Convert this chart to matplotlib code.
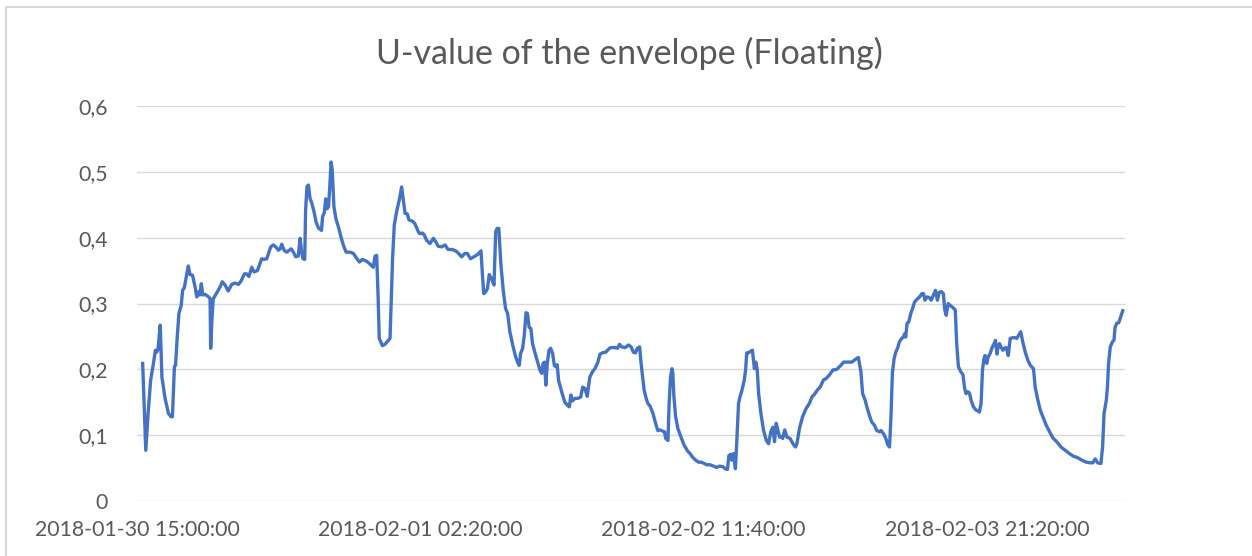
import matplotlib
matplotlib.use("Agg")

import matplotlib.pyplot as plt
from matplotlib.lines import Line2D
from matplotlib.ticker import FuncFormatter

# ================================
# DATA
# ================================
# x: sample position, one label every 100 units
idx = [
    2.0, 3.1, 4.0, 4.8, 5.8, 6.5, 6.9, 7.4, 8.2, 8.8, 9.9, 11.1, 12.0, 12.5, 13.2, 13.6,
    14.2, 14.8, 15.6, 16.1, 16.7, 17.3, 18.1, 18.7, 19.6, 20.5, 21.1, 21.8, 22.2, 22.7,
    23.2, 24.0, 25.3, 25.8, 26.0, 26.5, 26.9, 28.4, 29.3, 30.1, 31.1, 32.2, 33.4, 34.6,
    35.8, 36.7, 37.9, 38.7, 39.5, 40.5, 41.3, 42.5, 44.0, 44.8, 45.8, 46.4, 47.2, 48.1,
    49.0, 49.9, 50.5, 51.1, 51.9, 52.8, 53.8, 54.4, 55.2, 56.0, 56.9, 57.6, 58.1, 58.6,
    59.2, 59.5, 60.0, 60.5, 61.1, 61.6, 62.5, 63.2, 64.0, 65.1, 65.5, 66.1, 66.6, 67.1,
    67.6, 68.1, 68.5, 68.9, 69.5, 70.2, 71.1, 72.0, 72.8, 73.8, 75.2, 76.4, 77.3, 78.5,
    79.5, 81.1, 82.2, 83.4, 84.0, 84.6, 85.1, 85.5, 86.6, 87.5, 88.3, 89.3, 89.8, 90.2,
    90.8, 91.6, 92.6, 93.4, 94.0, 94.6, 95.4, 96.0, 97.3, 98.1, 99.3, 99.8, 100.8, 101.4,
    102.2, 103.4, 104.6, 105.4, 106.3, 107.5, 108.7, 109.8, 111.4, 112.8, 114.6, 115.7,
    116.6, 117.7, 119.3, 120.4, 121.4, 122.0, 122.4, 123.1, 123.7, 124.3, 125.1, 126.0,
    126.6, 127.1, 127.7, 128.4, 129.3, 130.1, 130.8, 131.6, 132.6, 133.5, 134.3, 134.9,
    135.4, 136.1, 136.7, 137.3, 137.8, 138.4, 139.0, 139.6, 140.4, 141.4, 142.2, 142.8,
    143.3, 143.8, 144.3, 144.8, 145.4, 146.0, 146.7, 147.3, 147.8, 148.3, 148.8, 149.5,
    150.2, 151.0, 152.0, 152.6, 153.1, 153.7, 154.6, 155.7, 156.6, 157.3, 158.1, 158.9,
    159.8, 160.7, 161.6, 162.6, 163.4, 164.2, 165.4, 166.3, 167.1, 168.8, 169.6, 170.3,
    171.1, 172.3, 173.5, 174.4, 175.2, 175.9, 176.6, 177.4, 177.8, 178.3, 179.0, 179.7,
    180.3, 181.1, 182.1, 182.9, 183.8, 184.6, 185.6, 186.2, 186.6, 187.4, 187.8, 188.3,
    188.8, 189.1, 189.5, 190.1, 190.9, 192.0, 193.1, 194.3, 195.2, 196.2, 197.2, 198.2,
    199.1, 200.2, 201.1, 202.3, 203.5, 204.6, 205.6, 206.8, 207.6, 208.4, 208.9, 209.5,
    209.9, 210.5, 211.2, 211.7, 212.3, 212.8, 213.5, 214.3, 214.8, 215.2, 215.8, 216.4,
    217.2, 217.9, 218.4, 218.9, 219.4, 220.2, 221.1, 222.1, 222.9, 223.7, 224.4, 225.0,
    225.6, 226.2, 226.8, 227.4, 227.9, 228.6, 229.4, 230.5, 231.5, 232.4, 232.9, 233.8,
    234.9, 236.1, 237.4, 238.2, 239.1, 240.2, 241.1, 242.3, 243.2, 244.3, 245.6, 247.0,
    248.4, 249.4, 250.8, 252.3, 253.5, 254.6, 255.5, 256.1, 257.0, 257.6, 258.5, 259.3,
    260.3, 261.1, 262.1, 262.6, 263.5, 264.3, 264.9, 265.6, 266.1, 266.6, 267.2, 267.8,
    268.5, 269.1, 269.9, 270.5, 270.9, 271.3, 271.8, 272.4, 273.1, 273.7, 274.4, 275.2,
    276.2, 277.0, 277.6, 278.1, 278.8, 279.6, 280.3, 281.1, 281.8, 282.5, 283.1, 283.9,
    284.6, 285.1, 285.6, 286.3, 287.0, 287.9, 288.8, 289.3, 289.9, 290.8, 291.5, 292.1,
    292.6, 293.2, 293.8, 294.4, 295.2, 296.1, 296.8, 297.3, 297.9, 298.4, 298.9, 299.3,
    299.9, 300.4, 301.1, 301.7, 302.5, 303.0, 303.5, 303.9, 304.4, 304.9, 305.6, 306.2,
    306.8, 307.5, 308.2, 309.0, 309.9, 310.5, 311.2, 311.9, 312.6, 313.5, 314.4, 315.3,
    316.4, 317.0, 317.8, 318.8, 319.7, 320.9, 322.1, 323.2, 324.6, 326.1, 327.6, 329.1,
    330.5, 331.9, 333.5, 335.0, 336.4, 337.3, 338.2, 339.0, 340.2, 340.8, 341.3, 342.1,
    342.5, 342.9, 343.5, 344.3, 344.8, 345.2, 345.8, 346.5, 347.2, 347.9,
]
u_value = [
    0.209, 0.077, 0.138, 0.183, 0.209, 0.229, 0.226, 0.230, 0.267, 0.188, 0.156, 0.133, 0.128, 0.128, 0.204, 0.206,
    0.249, 0.285, 0.297, 0.320, 0.324, 0.338, 0.357, 0.344, 0.343, 0.325, 0.310, 0.318, 0.313, 0.330,
    0.313, 0.314, 0.310, 0.307, 0.232, 0.280, 0.307, 0.318, 0.325, 0.333, 0.328, 0.319, 0.329, 0.331,
    0.329, 0.334, 0.345, 0.345, 0.341, 0.355, 0.348, 0.350, 0.368, 0.367, 0.368, 0.376, 0.386, 0.389,
    0.386, 0.381, 0.383, 0.390, 0.381, 0.378, 0.381, 0.383, 0.378, 0.371, 0.372, 0.399, 0.378, 0.368,
    0.367, 0.442, 0.478, 0.480, 0.459, 0.454, 0.439, 0.424, 0.415, 0.411, 0.432, 0.438, 0.459, 0.444,
    0.447, 0.482, 0.515, 0.503, 0.447, 0.429, 0.416, 0.401, 0.389, 0.378, 0.378, 0.376, 0.370, 0.363,
    0.367, 0.364, 0.360, 0.355, 0.372, 0.373, 0.310, 0.247, 0.236, 0.238, 0.242, 0.247, 0.315, 0.368,
    0.419, 0.439, 0.458, 0.477, 0.457, 0.437, 0.436, 0.427, 0.425, 0.421, 0.409, 0.406, 0.407, 0.404,
    0.396, 0.391, 0.399, 0.394, 0.387, 0.386, 0.389, 0.382, 0.382, 0.379, 0.371, 0.376,
    0.376, 0.368, 0.372, 0.375, 0.380, 0.338, 0.315, 0.318, 0.323, 0.344, 0.338, 0.328,
    0.409, 0.414, 0.414, 0.361, 0.318, 0.292, 0.285, 0.257, 0.237, 0.221, 0.211, 0.206,
    0.224, 0.232, 0.252, 0.286, 0.285, 0.264, 0.262, 0.239, 0.226, 0.211, 0.199, 0.194,
    0.209, 0.211, 0.176, 0.209, 0.229, 0.232, 0.224, 0.206, 0.204, 0.207, 0.183, 0.172,
    0.161, 0.150, 0.145, 0.143, 0.161, 0.152, 0.156, 0.156, 0.158, 0.173, 0.171, 0.159,
    0.188, 0.196, 0.201, 0.210, 0.223, 0.225, 0.226, 0.230, 0.233, 0.233, 0.232, 0.238,
    0.234, 0.233, 0.237, 0.234, 0.226, 0.225, 0.232, 0.234, 0.214, 0.194, 0.168, 0.156,
    0.148, 0.144, 0.133, 0.120, 0.107, 0.108, 0.106, 0.105, 0.095, 0.092, 0.148, 0.188,
    0.201, 0.195, 0.158, 0.128, 0.110, 0.097, 0.085, 0.076, 0.072, 0.066, 0.062, 0.059,
    0.059, 0.057, 0.055, 0.055, 0.053, 0.051, 0.053, 0.052, 0.049, 0.048, 0.069, 0.071,
    0.062, 0.072, 0.049, 0.092, 0.148, 0.158, 0.168, 0.183, 0.199, 0.225, 0.225, 0.227,
    0.229, 0.201, 0.211, 0.199, 0.163, 0.133, 0.108, 0.092, 0.087, 0.105, 0.112, 0.090,
    0.118, 0.107, 0.097, 0.098, 0.095, 0.108, 0.097, 0.095, 0.087, 0.082, 0.087, 0.110,
    0.128, 0.140, 0.149, 0.158, 0.162, 0.169, 0.173, 0.184, 0.186, 0.191, 0.199, 0.200,
    0.206, 0.211, 0.211, 0.211, 0.215, 0.218, 0.196, 0.163, 0.153, 0.143, 0.130, 0.120,
    0.115, 0.107, 0.105, 0.107, 0.102, 0.095, 0.086, 0.082, 0.128, 0.194, 0.216, 0.226,
    0.233, 0.242, 0.247, 0.249, 0.254, 0.249, 0.270, 0.272, 0.285, 0.292, 0.302, 0.306,
    0.310, 0.315, 0.315, 0.305, 0.310, 0.309, 0.305, 0.313, 0.320, 0.305, 0.317, 0.318,
    0.315, 0.290, 0.282, 0.300, 0.297, 0.294, 0.290, 0.239, 0.204, 0.196, 0.192, 0.171,
    0.163, 0.166, 0.164, 0.153, 0.143, 0.138, 0.137, 0.135, 0.148, 0.199, 0.216, 0.221,
    0.209, 0.219, 0.224, 0.232, 0.239, 0.244, 0.223, 0.234, 0.239, 0.234, 0.229, 0.232,
    0.233, 0.221, 0.247, 0.248, 0.248, 0.247, 0.252, 0.257, 0.242, 0.226, 0.214, 0.206,
    0.201, 0.173, 0.156, 0.138, 0.128, 0.115, 0.105, 0.096, 0.090, 0.082, 0.077, 0.072,
    0.068, 0.066, 0.062, 0.059, 0.058, 0.058, 0.064, 0.058, 0.057, 0.082, 0.133, 0.153,
    0.173, 0.209, 0.234, 0.242, 0.244, 0.264, 0.270, 0.271, 0.280, 0.289,
]

tick_pos = [0, 100, 200, 300]
tick_labels = [
    "2018-01-30 15:00:00",
    "2018-02-01 02:20:00",
    "2018-02-02 11:40:00",
    "2018-02-03 21:20:00",
]
y_ticks = [0, 0.1, 0.2, 0.3, 0.4, 0.5, 0.6]

TEXT = "#595959"
GRID = "#D9D9D9"
LINE = "#4472C4"

plt.rcParams["font.family"] = ["Lato", "DejaVu Sans"]

fig = plt.figure(figsize=(12.52, 5.56), dpi=100)
ax = fig.add_axes([137 / 1252, 1 - 501 / 556, (1125 - 137) / 1252, (501 - 106) / 556])

ax.plot(idx, u_value, color=LINE, lw=2.4, solid_joinstyle="round")

ax.set_xlim(0, 348.7)
ax.set_ylim(0, 0.6)
ax.set_yticks(y_ticks)
ax.yaxis.set_major_formatter(FuncFormatter(
    lambda v, p: "0" if v == 0 else f"{v:.1f}".replace(".", ",")))
ax.set_xticks(tick_pos)
ax.set_xticklabels(tick_labels)

ax.grid(axis="y", color=GRID, lw=1.0)
ax.set_axisbelow(True)
for s in ax.spines.values():
    s.set_visible(False)
ax.tick_params(length=0, labelsize=15.3, colors=TEXT)
ax.tick_params(axis="y", pad=21)
ax.tick_params(axis="x", pad=14)

fig.text(0.503, 1 - 53 / 556, "U-value of the envelope (Floating)",
         ha="center", va="center", fontsize=24.5, color=TEXT)

# chart border (light frame like the office chart)
fig.add_artist(Line2D([6 / 1252, 6 / 1252], [0, 1 - 7 / 556], color=GRID, lw=1.5))
fig.add_artist(Line2D([6 / 1252, 1], [1 - 7 / 556, 1 - 7 / 556], color=GRID, lw=1.5))

fig.savefig("out.png", dpi=100)
plt.close(fig)
